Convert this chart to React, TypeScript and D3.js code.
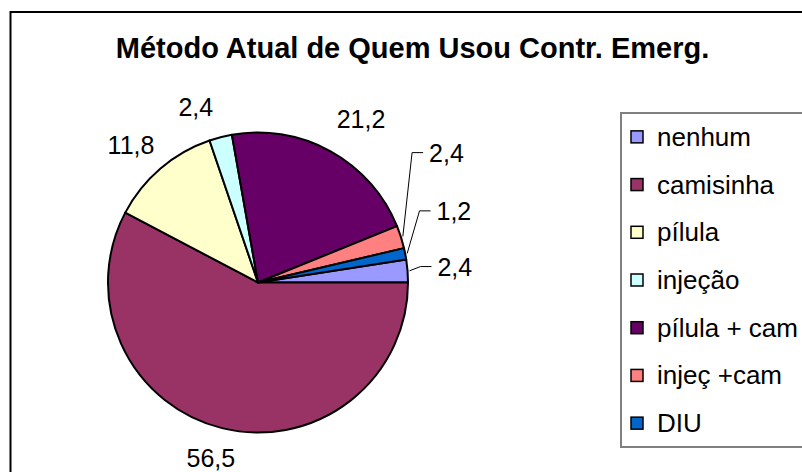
import React, { useEffect, useRef } from "react";
import * as d3 from "d3";

const title = "Método Atual de Quem Usou Contr. Emerg.";
const categories = ["nenhum", "camisinha", "pílula", "injeção", "pílula + cam", "injeç +cam", "DIU"];
const values = [2.4, 56.5, 11.8, 2.4, 21.2, 2.4, 1.2];
const colors = ["#9999FF", "#993366", "#FFFFCC", "#CCFFFF", "#660066", "#FF8080", "#0066CC"];

// labels that Excel pushed off their default spot (px), and the ones with a leader line
const labelShift: Record<string, [number, number]> = {
  "nenhum": [8, -2],
  "DIU": [10, -37],
  "injeç +cam": [8, -75],
  "injeção": [-15, 0],
  "pílula + cam": [8, -5],
};
const withLeader = ["nenhum", "DIU", "injeç +cam"];

const FONT = "'Liberation Sans', Arial, sans-serif";

const App = () => {
  const ref = useRef<SVGSVGElement>(null);

  const width = 802;
  const height = 472;
  const cx = 258;
  const cy = 282.5;
  const radius = 150;

  useEffect(() => {
    const svg = d3.select(ref.current);
    svg.selectAll("*").remove();

    // chart area border
    svg.append("rect")
      .attr("x", 10.5).attr("y", 12)
      .attr("width", 840).attr("height", 490)
      .attr("fill", "#fff")
      .attr("stroke", "#000")
      .attr("stroke-width", 2);

    svg.append("text")
      .text(title)
      .attr("x", 412.5).attr("y", 58)
      .attr("text-anchor", "middle")
      .style("font-family", FONT)
      .style("font-weight", "bold")
      .style("font-size", "29px");

    const total = d3.sum(values);
    // first slice ends at 3 o'clock
    const start = Math.PI / 2 - (values[0] / total) * 2 * Math.PI;

    const pie = d3.pie<number>()
      .value(d => d)
      .sort(null)
      .startAngle(start)
      .endAngle(start + 2 * Math.PI);

    const arc = d3.arc<d3.PieArcDatum<number>>()
      .innerRadius(0)
      .outerRadius(radius);

    const arcs = pie(values);

    const g = svg.append("g").attr("transform", `translate(${cx},${cy})`);

    g.selectAll("path.slice")
      .data(arcs)
      .enter()
      .append("path")
      .attr("class", "slice")
      .attr("d", arc)
      .attr("fill", (d, i) => colors[i])
      .attr("stroke", "#000")
      .attr("stroke-width", 2)
      .attr("stroke-linejoin", "round");

    const fmt = d3.formatLocale({
      decimal: ",",
      thousands: ".",
      grouping: [3],
      currency: ["", ""],
    }).format(".1f");

    const capH = 18;
    arcs.forEach((a, i) => {
      const mid = (a.startAngle + a.endAngle) / 2;
      const sx = Math.sin(mid);
      const sy = -Math.cos(mid);
      const t = g.append("text")
        .text(fmt(values[i]))
        .attr("text-anchor", "middle")
        .style("font-family", FONT)
        .style("font-size", "25px");
      const w = (t.node() as SVGTextElement).getBBox().width;
      let x = sx * (radius + 22) + (sx * w) / 2;
      let y = sy * (radius + 22) + (sy * capH) / 2;
      const shift = labelShift[categories[i]] || [0, 0];
      x += shift[0];
      y += shift[1];
      t.attr("x", x).attr("y", y + capH / 2);

      if (withLeader.includes(categories[i])) {
        const left = x - w / 2;
        const line = d3.line();
        g.append("path")
          .attr("d", line([
            [sx * (radius + 2), sy * (radius + 2)],
            [left - 17, y],
            [left - 6, y],
          ]))
          .attr("fill", "none")
          .attr("stroke", "#000")
          .attr("stroke-width", 1);
      }
    });

    // legend
    const legendTop = 113;
    const legendBottom = 447;
    svg.append("rect")
      .attr("x", 621).attr("y", legendTop)
      .attr("width", 240).attr("height", legendBottom - legendTop)
      .attr("fill", "#fff")
      .attr("stroke", "#808080")
      .attr("stroke-width", 2);

    const band = d3.scaleBand<string>()
      .domain(categories)
      .range([legendTop, legendBottom]);

    const item = svg.selectAll("g.item")
      .data(categories)
      .enter()
      .append("g")
      .attr("class", "item")
      .attr("transform", d => `translate(0,${(band(d) as number) + band.bandwidth() / 2})`);

    item.append("rect")
      .attr("x", 631).attr("y", -6)
      .attr("width", 12).attr("height", 12)
      .attr("fill", (d, i) => colors[i])
      .attr("stroke", "#000")
      .attr("stroke-width", 1.5);

    item.append("text")
      .text(d => d)
      .attr("x", 657).attr("y", 9)
      .style("font-family", FONT)
      .style("font-size", "26px");
  }, []);

  return (
    <svg
      ref={ref}
      width={width}
      height={height}
      style={{ position: "absolute", left: 0, top: 0, display: "block" }}
    />
  );
};

export default App;
